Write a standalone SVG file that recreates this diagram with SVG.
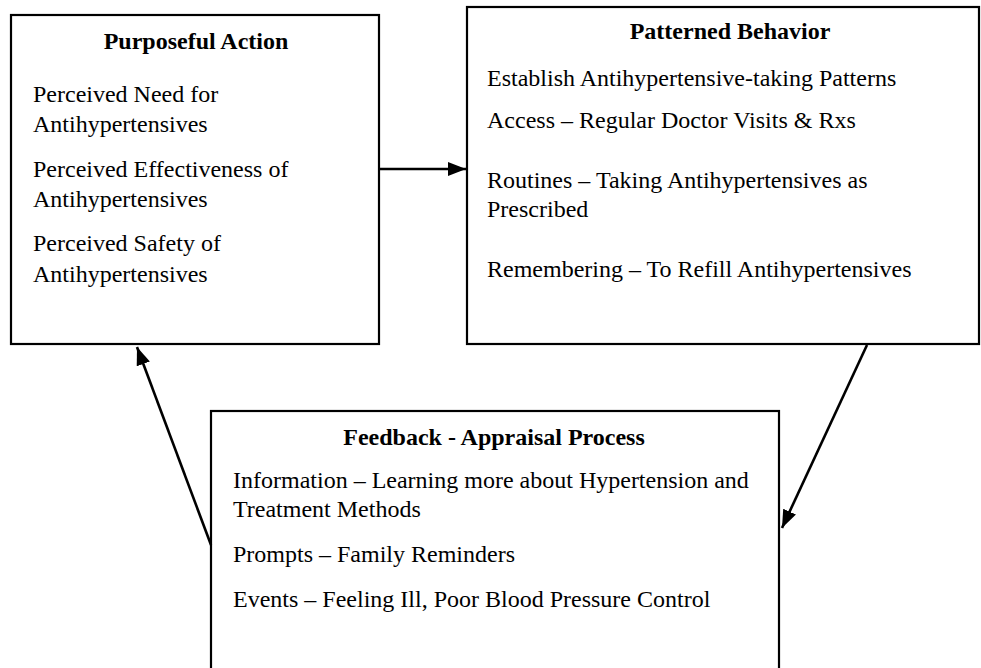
<svg xmlns="http://www.w3.org/2000/svg" width="981" height="668" viewBox="0 0 981 668">
<defs>
<style>
.box{fill:#fff;stroke:#000;stroke-width:2.2}
.t{font-family:"Liberation Serif","Times New Roman",serif;font-size:24px;fill:#000}
.h{font-weight:bold;text-anchor:middle}
.c{fill:none;stroke:#000;stroke-width:2.6}
</style>
<marker id="ah" markerUnits="userSpaceOnUse" markerWidth="20" markerHeight="16" viewBox="0 0 20 16" refX="18" refY="8" orient="auto">
<path d="M0,1 L18,8 L0,15 Z" fill="#000"/>
</marker>
</defs>
<rect width="981" height="668" fill="#fff"/>
<g id="purposeful-action">
<rect class="box" x="11" y="15" width="368" height="329"/>
<text class="t h" x="196" y="49">Purposeful Action</text>
<text class="t" x="33" y="102">Perceived Need for</text>
<text class="t" x="33" y="132">Antihypertensives</text>
<text class="t" x="33" y="177">Perceived Effectiveness of</text>
<text class="t" x="33" y="207">Antihypertensives</text>
<text class="t" x="33" y="251">Perceived Safety of</text>
<text class="t" x="33" y="282">Antihypertensives</text>
</g>
<g id="patterned-behavior">
<rect class="box" x="467" y="7" width="512" height="337"/>
<text class="t h" x="730" y="39">Patterned Behavior</text>
<text class="t" x="487" y="86">Establish Antihypertensive-taking Patterns</text>
<text class="t" x="487" y="128">Access – Regular Doctor Visits &amp; Rxs</text>
<text class="t" x="487" y="188">Routines – Taking Antihypertensives as</text>
<text class="t" x="487" y="217">Prescribed</text>
<text class="t" x="487" y="277">Remembering – To Refill Antihypertensives</text>
</g>
<g id="feedback-appraisal">
<rect class="box" x="211" y="411" width="568" height="270"/>
<text class="t h" x="494" y="445">Feedback - Appraisal Process</text>
<text class="t" x="233" y="488">Information – Learning more about Hypertension and</text>
<text class="t" x="233" y="517">Treatment Methods</text>
<text class="t" x="233" y="562">Prompts – Family Reminders</text>
<text class="t" x="233" y="607">Events – Feeling Ill, Poor Blood Pressure Control</text>
</g>
<g id="connectors">
<line class="c" x1="380" y1="169" x2="466" y2="169" marker-end="url(#ah)"/>
<line class="c" x1="867" y1="345" x2="782" y2="528" marker-end="url(#ah)"/>
<line class="c" x1="211" y1="545" x2="137" y2="347" marker-end="url(#ah)"/>
</g>
</svg>
